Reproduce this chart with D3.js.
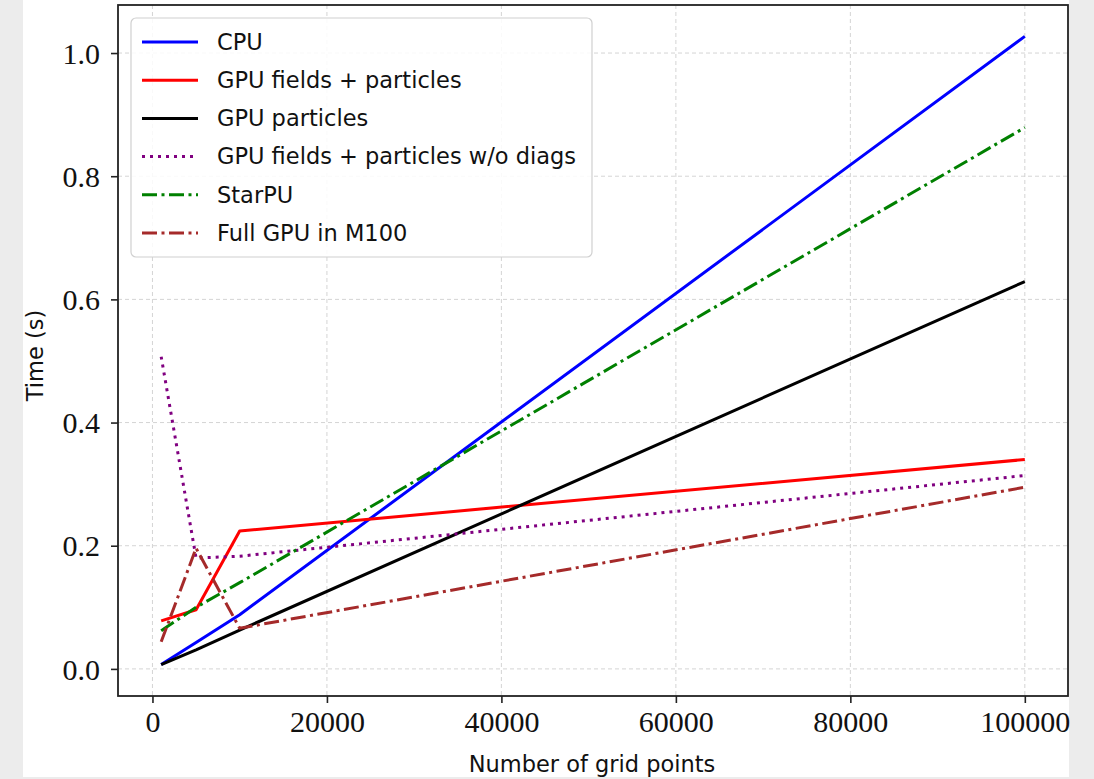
<!DOCTYPE html>
<html>
<head>
<meta charset="utf-8">
<script src="https://cdn.jsdelivr.net/npm/d3@7"></script>
<style>
  html, body { margin: 0; padding: 0; background: #ececec; }
  svg { display: block; }
</style>
</head>
<body>
<svg id="chart" width="1094" height="779"></svg>
<script>
// ---- data ----
const gridPoints = [1000, 5000, 10000, 100000];
const cpu = [0.007, 0.043, 0.088, 1.027];
const gpuFieldsParticles = [0.078, 0.096, 0.224, 0.340];
const gpuParticles = [0.007, 0.031, 0.063, 0.629];
const gpuNoDiags = [0.507, 0.180, 0.183, 0.314];
const starPU = [0.062, 0.100, 0.140, 0.879];
const fullGpuM100 = [0.044, 0.196, 0.066, 0.295];
const seriesNames = ["CPU", "GPU fields + particles", "GPU particles", "GPU fields + particles w/o diags", "StarPU", "Full GPU in M100"];
const xTicks = [0, 20000, 40000, 60000, 80000, 100000];
const yTicks = [0.0, 0.2, 0.4, 0.6, 0.8, 1.0];

const lw = 3;
const styles = [
  {color: "#0000ff", dash: null},
  {color: "#ff0000", dash: null},
  {color: "#000000", dash: null},
  {color: "#800080", dash: "3 5"},
  {color: "#008000", dash: "15 4.5 3 4.5"},
  {color: "#a52a2a", dash: "15 4.5 3 4.5"}
];
const seriesValues = [cpu, gpuFieldsParticles, gpuParticles, gpuNoDiags, starPU, fullGpuM100];

const svg = d3.select("#chart");
// white figure area
svg.append("rect").attr("x", 23).attr("y", 0).attr("width", 1046).attr("height", 777).attr("fill", "#ffffff");

const L = 118, R = 1068, T = 5, B = 696;
const xMin = d3.min(gridPoints), xMax = d3.max(gridPoints);
const xPad = (xMax - xMin) * 0.05;
const allY = seriesValues.flat();
const yMin = d3.min(allY), yMax = d3.max(allY);
const yPad = (yMax - yMin) * 0.05;
const x = d3.scaleLinear().domain([xMin - xPad, xMax + xPad]).range([L, R]);
const y = d3.scaleLinear().domain([yMin - yPad, yMax + yPad]).range([B, T]);

// grid
const grid = svg.append("g");
grid.selectAll("line.vx").data(xTicks).join("line")
  .attr("x1", d => x(d)).attr("x2", d => x(d)).attr("y1", T).attr("y2", B)
  .attr("stroke", "#cfcfcf").attr("stroke-width", 0.9).attr("stroke-dasharray", "4 3");
grid.selectAll("line.hy").data(yTicks).join("line")
  .attr("y1", d => y(d)).attr("y2", d => y(d)).attr("x1", L).attr("x2", R)
  .attr("stroke", "#cfcfcf").attr("stroke-width", 0.9).attr("stroke-dasharray", "4 3");

// lines
const line = d3.line().x((d, i) => x(gridPoints[i])).y(d => y(d));
seriesValues.forEach((vals, k) => {
  svg.append("path").datum(vals)
    .attr("d", line)
    .attr("fill", "none")
    .attr("stroke", styles[k].color)
    .attr("stroke-width", lw)
    .attr("stroke-linejoin", "round")
    .attr("stroke-dasharray", styles[k].dash);
});

// axes
const serif = "'Liberation Serif', 'DejaVu Serif', serif";
const sans = "'DejaVu Sans', sans-serif";
const xAxis = svg.append("g").attr("transform", `translate(0,${B})`)
  .call(d3.axisBottom(x).tickValues(xTicks).tickFormat(d3.format("d")).tickSize(7).tickPadding(8));
const yAxis = svg.append("g").attr("transform", `translate(${L},0)`)
  .call(d3.axisLeft(y).tickValues(yTicks).tickFormat(d3.format(".1f")).tickSize(7).tickPadding(11));
[xAxis, yAxis].forEach(g => {
  g.select(".domain").remove();
  g.selectAll(".tick line").attr("stroke", "#222").attr("stroke-width", 1.6);
  g.selectAll(".tick text").attr("font-family", serif).attr("font-size", 30).attr("fill", "#111");
});
yAxis.selectAll(".tick text").attr("dy", "0.34em");

// spines
svg.append("rect").attr("x", L).attr("y", T).attr("width", R - L).attr("height", B - T)
  .attr("fill", "none").attr("stroke", "#222").attr("stroke-width", 1.8);

// axis labels
svg.append("text").attr("x", (L + R) / 2 - 1).attr("y", 772).attr("text-anchor", "middle")
  .attr("font-family", sans).attr("font-size", 22.5).attr("fill", "#111").text("Number of grid points");
svg.append("text").attr("transform", `translate(43,${(T + B) / 2 + 5}) rotate(-90)`).attr("text-anchor", "middle")
  .attr("font-family", sans).attr("font-size", 22.5).attr("fill", "#111").text("Time (s)");

// legend
const lg = svg.append("g");
lg.append("rect").attr("x", 131).attr("y", 18).attr("width", 461).attr("height", 239).attr("rx", 5)
  .attr("fill", "#ffffff").attr("fill-opacity", 0.85).attr("stroke", "#d0d0d0").attr("stroke-width", 1.2);
seriesNames.forEach((name, k) => {
  const yy = 42 + k * 38.2;
  lg.append("line").attr("x1", 142).attr("x2", 198).attr("y1", yy).attr("y2", yy)
    .attr("stroke", styles[k].color).attr("stroke-width", lw).attr("stroke-dasharray", styles[k].dash);
  lg.append("text").attr("x", 217).attr("y", yy).attr("dy", "0.35em")
    .attr("font-family", sans).attr("font-size", 22.5).attr("fill", "#111").text(name);
});
</script>
</body>
</html>
